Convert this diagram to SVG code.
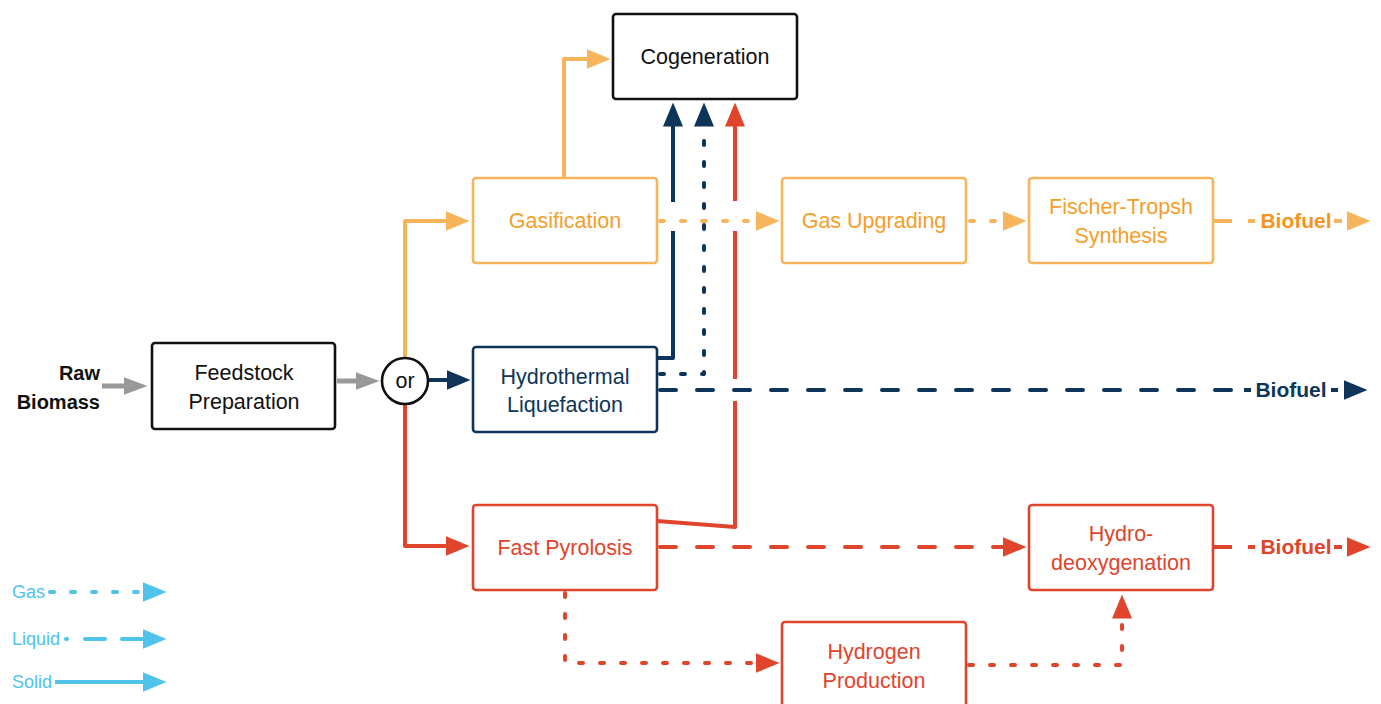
<svg xmlns="http://www.w3.org/2000/svg" width="1381" height="704" viewBox="0 0 1381 704">
<style>
  text { font-family: "Liberation Sans", Arial, sans-serif; font-size: 21.5px; text-anchor: middle; }
  .box { fill: #fff; stroke-width: 2.6; }
  .k { stroke: #111; }
  .o { stroke: #F6B55B; }
  .n { stroke: #0E3559; }
  .r { stroke: #E0452C; }
  .tk { fill: #111; }
  .to { fill: #F59E2A; }
  .tn { fill: #0E3559; }
  .tr { fill: #E0452C; }
  .bold { font-weight: bold; }
  .ln { fill: none; stroke-width: 4; stroke-linejoin: round; }
  .gas { stroke-dasharray: 4 17; stroke-linecap: round; }
  .liq { stroke-dasharray: 16 21; stroke-linecap: round; }
  .lo { stroke: #F6B55B; }
  .ln.n { stroke: #0E3559; }
  .ln.r { stroke: #E0452C; }
  .lg { stroke: #999; stroke-width: 5; }
  .lb { stroke: #4FC3EA; }
  .leg { font-size: 18px; fill: #4FC3EA; text-anchor: start; }
  .bf { font-size: 21px; font-weight: bold; }
</style>
<defs>
  <marker id="ao" viewBox="0 0 24 20" markerWidth="24" markerHeight="20" refX="0.5" refY="10" orient="auto" markerUnits="userSpaceOnUse"><path d="M0,0 L24,10 L0,20 z" fill="#F6B55B"/></marker>
  <marker id="an" viewBox="0 0 24 20" markerWidth="24" markerHeight="20" refX="0.5" refY="10" orient="auto" markerUnits="userSpaceOnUse"><path d="M0,0 L24,10 L0,20 z" fill="#0E3559"/></marker>
  <marker id="ar" viewBox="0 0 24 20" markerWidth="24" markerHeight="20" refX="0.5" refY="10" orient="auto" markerUnits="userSpaceOnUse"><path d="M0,0 L24,10 L0,20 z" fill="#E0452C"/></marker>
  <marker id="ag" viewBox="0 0 24 20" markerWidth="24" markerHeight="20" refX="0.5" refY="10" orient="auto" markerUnits="userSpaceOnUse"><path d="M0,1 L24,10 L0,19 z" fill="#999"/></marker>
  <marker id="ab" viewBox="0 0 24 20" markerWidth="24" markerHeight="20" refX="0.5" refY="10" orient="auto" markerUnits="userSpaceOnUse"><path d="M0,0 L24,10 L0,20 z" fill="#4FC3EA"/></marker>
</defs>

<g id="connectors">
  <!-- gray -->
  <path class="ln lg" d="M102,386 H124" marker-end="url(#ag)"/>
  <path class="ln lg" d="M337,381 H356" marker-end="url(#ag)"/>
  <!-- orange -->
  <path class="ln lo" d="M405,358 V221 H446" marker-end="url(#ao)"/>
  <path class="ln lo" d="M564,178 V59 H587" marker-end="url(#ao)"/>
  <path class="ln lo gas" d="M660,221 H756" marker-end="url(#ao)"/>
  <path class="ln lo gas" d="M970,221 H1003" marker-end="url(#ao)"/>
  <path class="ln lo" d="M1214,221 H1232"/>
  <path class="ln lo" d="M1248,221 H1255"/>
  <path class="ln lo" d="M1334,221 H1347" stroke-dasharray="8 5" marker-end="url(#ao)"/>
  <!-- navy -->
  <path class="ln n" d="M428,380 H447" marker-end="url(#an)"/>
  <path class="ln n" d="M657,358 H673 V231"/>
  <path class="ln n" d="M673,202 V126" marker-end="url(#an)"/>
  <path class="ln n gas" d="M660,374 H704 V126" marker-end="url(#an)"/>
  <path class="ln n liq" d="M660,390 H1232"/>
  <path class="ln n" d="M1244,390 H1251"/>
  <path class="ln n" d="M1331,390 H1344" stroke-dasharray="7 6" marker-end="url(#an)"/>
  <!-- red -->
  <path class="ln r" d="M405,403 V546 H446" marker-end="url(#ar)"/>
  <path class="ln r" d="M657,521 L735,527 V401"/>
  <path class="ln r" d="M735,379 V231"/>
  <path class="ln r" d="M735,201 V126" marker-end="url(#ar)"/>
  <path class="ln r liq" d="M660,547 H1003" marker-end="url(#ar)"/>
  <path class="ln r" d="M1214,547 H1232"/>
  <path class="ln r" d="M1248,547 H1255"/>
  <path class="ln r" d="M1334,547 H1347" stroke-dasharray="8 5" marker-end="url(#ar)"/>
  <path class="ln r gas" d="M565,593 V663 H756" marker-end="url(#ar)"/>
  <path class="ln r gas" d="M969,665 H1122 V618" marker-end="url(#ar)"/>
  <!-- legend lines -->
  <path class="ln lb gas" d="M50,592 H143" stroke-dasharray="3 20" marker-end="url(#ab)"/>
  <path class="ln lb" d="M66,639 H143" stroke-dasharray="1 18 20 17 30" stroke-linecap="round" marker-end="url(#ab)"/>
  <path class="ln lb" d="M55,682 H143" marker-end="url(#ab)"/>
</g>

<g id="raw-biomass">
  <text class="tk bold" x="100" y="380" style="text-anchor:end;font-size:20px">Raw</text>
  <text class="tk bold" x="100" y="409" style="text-anchor:end;font-size:20px">Biomass</text>
</g>
<g id="feedstock">
  <rect class="box k" x="152" y="343" width="183" height="86" rx="3"/>
  <text class="tk" x="244" y="380">Feedstock</text>
  <text class="tk" x="244" y="409">Preparation</text>
</g>
<g id="or">
  <circle cx="405" cy="381" r="23" fill="#fff" stroke="#111" stroke-width="2.6"/>
  <text class="tk" x="405" y="388">or</text>
</g>
<g id="cogeneration">
  <rect class="box k" x="613" y="14" width="184" height="85" rx="3"/>
  <text class="tk" x="705" y="64">Cogeneration</text>
</g>
<g id="gasification">
  <rect class="box o" x="473" y="178" width="184" height="85" rx="3"/>
  <text class="to" x="565" y="228">Gasification</text>
</g>
<g id="gas-upgrading">
  <rect class="box o" x="782" y="178" width="184" height="85" rx="3"/>
  <text class="to" x="874" y="228">Gas Upgrading</text>
</g>
<g id="fischer-tropsh">
  <rect class="box o" x="1029" y="178" width="184" height="85" rx="3"/>
  <text class="to" x="1121" y="214">Fischer-Tropsh</text>
  <text class="to" x="1121" y="243">Synthesis</text>
</g>
<g id="hydrothermal">
  <rect class="box n" x="473" y="347" width="184" height="85" rx="3"/>
  <text class="tn" x="565" y="384">Hydrothermal</text>
  <text class="tn" x="565" y="412">Liquefaction</text>
</g>
<g id="fast-pyrolosis">
  <rect class="box r" x="473" y="505" width="184" height="85" rx="3"/>
  <text class="tr" x="565" y="555">Fast Pyrolosis</text>
</g>
<g id="hydro-deoxygenation">
  <rect class="box r" x="1029" y="505" width="184" height="85" rx="3"/>
  <text class="tr" x="1121" y="541">Hydro-</text>
  <text class="tr" x="1121" y="570">deoxygenation</text>
</g>
<g id="hydrogen-production">
  <rect class="box r" x="782" y="622" width="184" height="86" rx="3"/>
  <text class="tr" x="874" y="659">Hydrogen</text>
  <text class="tr" x="874" y="688">Production</text>
</g>
<g id="biofuel-labels">
  <text class="bf" x="1296" y="228" fill="#F7941D">Biofuel</text>
  <text class="bf tn" x="1291" y="397">Biofuel</text>
  <text class="bf tr" x="1296" y="554">Biofuel</text>
</g>
<g id="legend">
  <text class="leg" x="12" y="598">Gas</text>
  <text class="leg" x="12" y="645">Liquid</text>
  <text class="leg" x="12" y="688">Solid</text>
</g>
</svg>
